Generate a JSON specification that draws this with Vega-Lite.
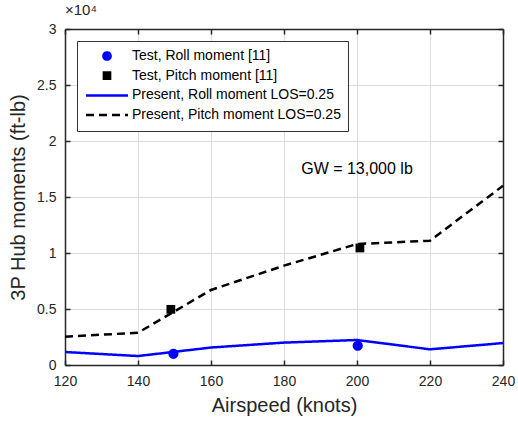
{
  "$schema": "https://vega.github.io/schema/vega-lite/v6.json",
  "width": 438,
  "height": 336,
  "autosize": {"type": "none"},
  "padding": {"left": 65, "top": 29, "right": 15, "bottom": 56},
  "background": "white",
  "config": {
    "font": "Liberation Sans",
    "view": {"stroke": null},
    "axis": {
      "labelFont": "Liberation Sans",
      "titleFont": "Liberation Sans",
      "labelFontSize": 14,
      "labelColor": "#262626",
      "titleColor": "#262626",
      "titleFontSize": 20,
      "titleFontWeight": "normal",
      "domainColor": "#262626",
      "domainWidth": 1.5,
      "tickColor": "#262626",
      "tickWidth": 1.5,
      "tickSize": -5,
      "gridColor": "#dcdcdc",
      "gridWidth": 1
    },
    "legend": {
      "labelFont": "Liberation Sans",
      "labelFontSize": 14,
      "labelColor": "#000000"
    }
  },
  "title": {
    "text": "×10⁴",
    "anchor": "start",
    "frame": "group",
    "fontSize": 15,
    "fontWeight": "normal",
    "color": "#262626",
    "font": "Liberation Sans",
    "offset": 4
  },
  "data": {
    "values": [
      {"speed": 120, "moment": 1160, "series": "Present, Roll moment LOS=0.25"},
      {"speed": 140, "moment": 800, "series": "Present, Roll moment LOS=0.25"},
      {"speed": 160, "moment": 1560, "series": "Present, Roll moment LOS=0.25"},
      {"speed": 180, "moment": 2000, "series": "Present, Roll moment LOS=0.25"},
      {"speed": 200, "moment": 2230, "series": "Present, Roll moment LOS=0.25"},
      {"speed": 220, "moment": 1400, "series": "Present, Roll moment LOS=0.25"},
      {"speed": 240, "moment": 1960, "series": "Present, Roll moment LOS=0.25"},
      {"speed": 120, "moment": 2530, "series": "Present, Pitch moment LOS=0.25"},
      {"speed": 140, "moment": 2880, "series": "Present, Pitch moment LOS=0.25"},
      {"speed": 160, "moment": 6700, "series": "Present, Pitch moment LOS=0.25"},
      {"speed": 180, "moment": 8870, "series": "Present, Pitch moment LOS=0.25"},
      {"speed": 200, "moment": 10800, "series": "Present, Pitch moment LOS=0.25"},
      {"speed": 220, "moment": 11100, "series": "Present, Pitch moment LOS=0.25"},
      {"speed": 240, "moment": 16000, "series": "Present, Pitch moment LOS=0.25"},
      {"speed": 149.7, "moment": 1000, "series": "Test, Roll moment [11]"},
      {"speed": 200.2, "moment": 1720, "series": "Test, Roll moment [11]"},
      {"speed": 149, "moment": 4970, "series": "Test, Pitch moment [11]"},
      {"speed": 200.8, "moment": 10450, "series": "Test, Pitch moment [11]"}
    ]
  },
  "resolve": {"axis": {"x": "independent", "y": "independent"}},
  "layer": [
    {
      "transform": [{"filter": "indexof(datum.series, 'Present') === 0"}],
      "mark": {"type": "line", "strokeWidth": 2.5},
      "encoding": {
        "x": {
          "field": "speed", "type": "quantitative",
          "scale": {"domain": [120, 240], "nice": false, "zero": false},
          "axis": {"orient": "bottom", "title": "Airspeed (knots)", "values": [120, 140, 160, 180, 200, 220, 240], "grid": true, "labelPadding": 14, "titlePadding": 7, "labelFlush": false}
        },
        "y": {
          "field": "moment", "type": "quantitative",
          "scale": {"domain": [0, 30000], "nice": false},
          "axis": {"orient": "left", "title": "3P Hub moments (ft-lb)", "values": [0, 5000, 10000, 15000, 20000, 25000, 30000], "labelExpr": "format(datum.value / 10000, '~g')", "grid": true, "labelPadding": 14, "titlePadding": 8, "labelFlush": false}
        },
        "color": {
          "field": "series", "type": "nominal",
          "scale": {
            "domain": ["Test, Roll moment [11]", "Test, Pitch moment [11]", "Present, Roll moment LOS=0.25", "Present, Pitch moment LOS=0.25"],
            "range": ["#0000ff", "#000000", "#0000ff", "#000000"]
          },
          "legend": {
            "title": null,
            "orient": "none",
            "legendX": 12,
            "legendY": 12,
            "fillColor": "white",
            "strokeColor": "#333333",
            "padding": 7,
            "symbolSize": 100,
            "symbolOffset": 16,
            "labelOffset": 18,
            "labelLimit": 0,
            "clipHeight": 16,
            "rowPadding": 3.7,
            "symbolStrokeWidth": 2.5
          }
        },
        "strokeDash": {
          "field": "series", "type": "nominal",
          "scale": {
            "domain": ["Test, Roll moment [11]", "Test, Pitch moment [11]", "Present, Roll moment LOS=0.25", "Present, Pitch moment LOS=0.25"],
            "range": [[1, 0], [1, 0], [1, 0], [8, 5]]
          }
        }
      }
    },
    {
      "transform": [{"filter": "indexof(datum.series, 'Test') === 0"}],
      "mark": {"type": "point", "filled": true, "opacity": 1, "size": 200},
      "encoding": {
        "x": {"field": "speed", "type": "quantitative", "axis": null},
        "y": {"field": "moment", "type": "quantitative", "axis": null},
        "color": {"field": "series", "type": "nominal"},
        "shape": {
          "field": "series", "type": "nominal",
          "scale": {
            "domain": ["Test, Roll moment [11]", "Test, Pitch moment [11]", "Present, Roll moment LOS=0.25", "Present, Pitch moment LOS=0.25"],
            "range": ["M-0.72,0A0.72,0.72,0,1,0,0.72,0A0.72,0.72,0,1,0,-0.72,0Z", "M-0.62,-0.62H0.62V0.62H-0.62Z", "M-4.2,0H4.2", "M-4.2,0H4.2"]
          }
        }
      }
    },
    {
      "data": {"values": [{"speed": 200, "moment": 17500, "label": "GW = 13,000 lb"}]},
      "mark": {"type": "text", "fontSize": 16, "font": "Liberation Sans", "color": "#000000", "align": "center", "baseline": "middle"},
      "encoding": {
        "x": {"field": "speed", "type": "quantitative", "axis": {"orient": "top", "title": null, "labels": false, "grid": false, "values": [120, 140, 160, 180, 200, 220, 240]}},
        "y": {"field": "moment", "type": "quantitative", "axis": {"orient": "right", "title": null, "labels": false, "grid": false, "values": [0, 5000, 10000, 15000, 20000, 25000, 30000]}},
        "text": {"field": "label"}
      }
    }
  ]
}
